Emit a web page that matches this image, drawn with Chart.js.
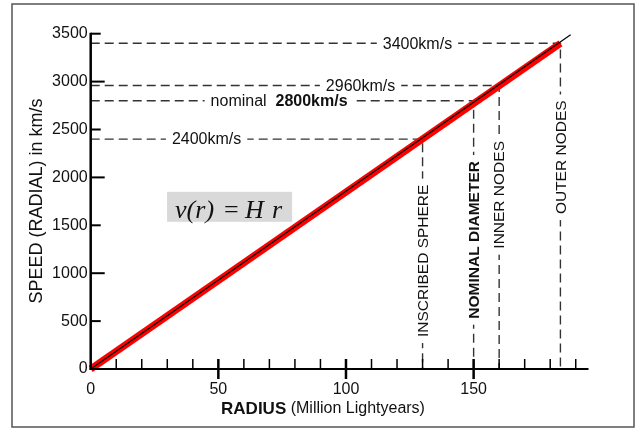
<!DOCTYPE html>
<html>
<head>
<meta charset="utf-8">
<script src="https://cdn.jsdelivr.net/npm/chart.js@4"></script>
<style>
html, body { margin: 0; padding: 0; background: #fff; }
#wrap { width: 638px; height: 428px; }
</style>
</head>
<body>
<div id="wrap"><canvas id="hubble"></canvas></div>
<script>
// values
var xTicks = [0, 50, 100, 150];
var xMinorTicks = [10, 20, 30, 40, 60, 70, 80, 90, 110, 120, 130, 140, 160, 170, 180, 190];
var yTicks = [0, 500, 1000, 1500, 2000, 2500, 3000, 3500];

var radius = [0, 184];          // red band, Million Lightyears
var speed = [0, 3400];          // km/s
var lineRadius = [0, 188];      // thin black line runs a bit further
var lineSpeed = [0, 3490];

var guideNames = ['INSCRIBED SPHERE', 'NOMINAL DIAMETER', 'INNER NODES', 'OUTER NODES'];
var guideRadius = [130, 150, 160, 184];
var guideSpeed = [2400, 2800, 2960, 3400];
var speedLabels = ['2400km/s', '2800km/s', '2960km/s', '3400km/s'];
var speedPrefix = ['', 'nominal  ', '', ''];
var guideBold = [false, true, false, false];

// where the labels sit on their dashed lines (data units)
var speedLabelAt = [45.4, 73.8, 105.7, 128];
var nameLabelAt = [1129, 1348, 1818, 2210];

var SANS = '"Liberation Sans", Arial, Helvetica, sans-serif';
var SERIF = '"Liberation Serif", "Times New Roman", serif';

var datasets = [];
datasets.push({
    data: lineRadius.map(function (r, i) { return {x: r, y: lineSpeed[i]}; }),
    borderColor: '#000', borderWidth: 1.2, pointRadius: 0, order: 0, clip: false
});
datasets.push({
    data: radius.map(function (r, i) { return {x: r, y: speed[i]}; }),
    borderColor: '#ff0000', borderWidth: 7, pointRadius: 0, order: 1, clip: false,
    borderCapStyle: 'butt'
});
for (var g = 0; g < guideRadius.length; g++) {
    datasets.push({
        data: [{x: 0, y: guideSpeed[g]}, {x: guideRadius[g], y: guideSpeed[g]}, {x: guideRadius[g], y: 0}],
        borderColor: '#333', borderWidth: 1.4, borderDash: [9, 5], pointRadius: 0, order: 2,
        borderJoinStyle: 'miter', clip: false
    });
}

var extras = {
    id: 'extras',
    beforeDraw: function (chart) {
        var c = chart.ctx;
        c.save();
        c.fillStyle = '#fff';
        c.fillRect(0, 0, chart.width, chart.height);
        c.strokeStyle = '#555';
        c.lineWidth = 1.5;
        c.strokeRect(12, 4, 622, 423);
        c.restore();
    },
    afterDatasetsDraw: function (chart) {
        var c = chart.ctx, xs = chart.scales.x, ys = chart.scales.y;
        c.save();
        c.textBaseline = 'middle';
        // speed labels on horizontal guides
        for (var i = 0; i < speedLabels.length; i++) {
            var fMain = (guideBold[i] ? 'bold ' : '') + '16px ' + SANS;
            var fPre = '16px ' + SANS;
            c.font = fPre;
            var wPre = c.measureText(speedPrefix[i]).width;
            c.font = fMain;
            var wMain = c.measureText(speedLabels[i]).width;
            var tot = wPre + wMain;
            var cx = xs.getPixelForValue(speedLabelAt[i]);
            var cy = ys.getPixelForValue(guideSpeed[i]);
            var x0 = cx - tot / 2;
            c.fillStyle = '#fff';
            c.fillRect(x0 - 6, cy - 4, tot + 12, 8);
            c.fillStyle = '#111';
            c.textAlign = 'left';
            c.font = fPre;
            c.fillText(speedPrefix[i], x0, cy + 1);
            c.font = fMain;
            c.fillText(speedLabels[i], x0 + wPre, cy + 1);
        }
        // names on vertical guides
        for (var j = 0; j < guideNames.length; j++) {
            var vx = xs.getPixelForValue(guideRadius[j]);
            var vy = ys.getPixelForValue(nameLabelAt[j]);
            c.font = (guideBold[j] ? 'bold ' : '') + '15.5px ' + SANS;
            var w = c.measureText(guideNames[j]).width;
            c.save();
            c.translate(vx, vy);
            c.rotate(-Math.PI / 2);
            c.fillStyle = '#fff';
            c.fillRect(-w / 2 - 6, -4, w + 12, 8);
            c.fillStyle = '#111';
            c.textAlign = 'center';
            c.fillText(guideNames[j], 0, 1);
            c.restore();
        }
        // formula box
        var bx = xs.getPixelForValue(54.4) - 62.5, by = ys.getPixelForValue(1693) - 15;
        c.fillStyle = '#d9d9d9';
        c.fillRect(bx, by, 125, 30);
        c.fillStyle = '#111';
        c.textAlign = 'left';
        c.textBaseline = 'alphabetic';
        c.font = 'italic 26px ' + SERIF;
        c.fillText('v(r)', bx + 8, by + 26);
        c.fillText('H', bx + 78, by + 26);
        c.fillText('r', bx + 105, by + 26);
        c.font = '26px ' + SERIF;
        c.fillText('=', bx + 57, by + 26);
        c.restore();
    },
    afterDraw: function (chart) {
        var c = chart.ctx, xs = chart.scales.x, ys = chart.scales.y;
        var x0 = xs.getPixelForValue(0), y0 = ys.getPixelForValue(0);
        c.save();
        c.strokeStyle = '#000';
        c.lineCap = 'butt';
        // y axis
        c.lineWidth = 2.5;
        c.beginPath();
        c.moveTo(x0, y0 + 1);
        c.lineTo(x0, ys.getPixelForValue(3500) - 1);
        c.stroke();
        c.lineWidth = 2;
        yTicks.forEach(function (v) {
            if (v === 0) return;
            var y = ys.getPixelForValue(v);
            c.beginPath();
            c.moveTo(x0, y);
            c.lineTo(x0 + (v % 1000 === 0 ? 14 : 10), y);
            c.stroke();
        });
        // x axis
        c.lineWidth = 2;
        c.beginPath();
        c.moveTo(x0 - 1, y0);
        c.lineTo(xs.right, y0);
        c.stroke();
        c.lineWidth = 1.5;
        xMinorTicks.forEach(function (r) {
            var x = xs.getPixelForValue(r);
            c.beginPath();
            c.moveTo(x, y0);
            c.lineTo(x, y0 - 10);
            c.stroke();
        });
        c.lineWidth = 2.5;
        xTicks.forEach(function (r) {
            if (r === 0) return;
            var x = xs.getPixelForValue(r);
            c.beginPath();
            c.moveTo(x, y0 - 10);
            c.lineTo(x, y0 + 10);
            c.stroke();
        });
        // axis titles
        c.fillStyle = '#111';
        c.textBaseline = 'middle';
        c.font = 'bold 17px ' + SANS;
        var wb = c.measureText('RADIUS').width;
        c.font = '16px ' + SANS;
        var wn = c.measureText(' (Million Lightyears)').width;
        var tx = 323 - (wb + wn) / 2;
        c.textAlign = 'left';
        c.font = 'bold 17px ' + SANS;
        c.fillText('RADIUS', tx, 409);
        c.font = '16px ' + SANS;
        c.fillText(' (Million Lightyears)', tx + wb, 409);
        c.save();
        c.translate(37, 201);
        c.rotate(-Math.PI / 2);
        c.textAlign = 'center';
        c.font = '18px ' + SANS;
        c.fillText('SPEED (RADIAL) in km/s', 0, 0);
        c.restore();
        c.restore();
    }
};

var ctx = document.getElementById('hubble');
var chart = new Chart(ctx, {
    type: 'line',
    data: { datasets: datasets },
    options: {
        responsive: true,
        maintainAspectRatio: false,
        animation: false,
        layout: { padding: { left: 0, top: 33.7, right: 49.5, bottom: 0 } },
        plugins: { legend: { display: false }, tooltip: { enabled: false } },
        scales: {
            x: {
                type: 'linear', min: 0, max: 195,
                grid: { display: false, drawTicks: false },
                border: { display: false },
                afterFit: function (s) { s.height = 59; },
                afterBuildTicks: function (s) { s.ticks = xTicks.map(function (v) { return {value: v}; }); },
                ticks: { padding: 11, color: '#111', font: { family: SANS, size: 16 }, maxRotation: 0,
                         callback: function (v) { return String(v); } }
            },
            y: {
                min: 0, max: 3500,
                grid: { display: false, drawTicks: false },
                border: { display: false },
                afterFit: function (s) { s.width = 90.7; },
                afterBuildTicks: function (s) { s.ticks = yTicks.map(function (v) { return {value: v}; }); },
                ticks: { padding: 3, color: '#111', font: { family: SANS, size: 16 },
                         callback: function (v) { return String(v); } }
            }
        }
    },
    plugins: [extras]
});
</script>
</body>
</html>
